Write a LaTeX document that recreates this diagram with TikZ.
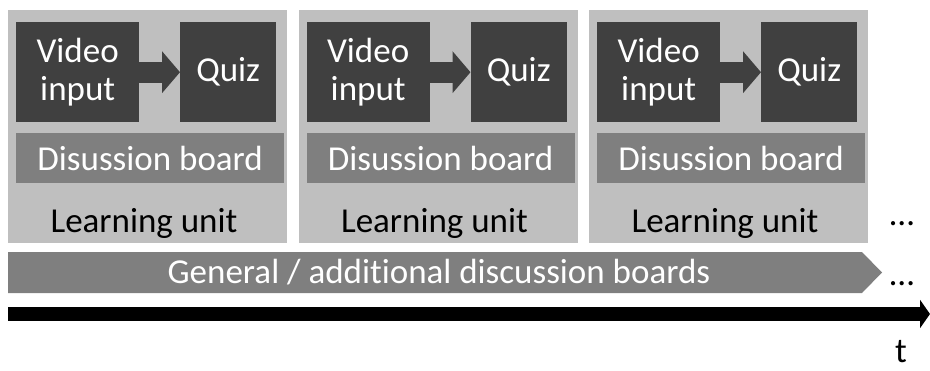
\documentclass[tikz,border=0pt]{standalone}
\usepackage{fontspec}
\setmainfont{Carlito}[Ligatures=NoCommon, RawFeature={-liga;-calt}]
\usetikzlibrary{arrows.meta}
\definecolor{unitgray}{HTML}{BFBFBF}
\definecolor{darkbox}{HTML}{404040}
\definecolor{midgray}{HTML}{7F7F7F}
\tikzset{
  unitbox/.style={fill=unitgray, draw=none, anchor=north west, inner sep=0pt,
    minimum width=279pt, minimum height=233pt},
  darkstep/.style={fill=darkbox, draw=none, anchor=north west, inner sep=0pt,
    minimum height=100pt, text=white, align=center,
    font=\fontsize{35}{38}\selectfont},
  boardbox/.style={fill=midgray, draw=none, anchor=north west, inner sep=0pt,
    minimum width=268pt, minimum height=50pt, text=white,
    font=\fontsize{35}{38}\selectfont},
  unitlabel/.style={font=\fontsize{35}{38}\selectfont, inner sep=0pt, anchor=base},
  flowarrow/.style={draw=darkbox, line width=21pt,
    -{Triangle[length=18pt,width=41pt]}},
  timearrow/.style={draw=black, line width=14pt,
    -{Triangle[length=10pt,width=28pt]}},
  plain/.style={font=\fontsize{35}{38}\selectfont, inner sep=0pt}
}
\begin{document}
\begin{tikzpicture}[x=1pt,y=-1pt]
\useasboundingbox (0,0) rectangle (930,370);

% three learning units
\foreach \ox/\i in {8/1,298.5/2,589/3}{
  \node[unitbox] (unit\i) at (\ox,10) {};
  \node[darkstep, minimum width=123pt] (video\i) at (\ox+8,22) {Video\\input};
  \node[darkstep, minimum width=96pt] (quiz\i) at (\ox+172,22) {Quiz};
  \draw[flowarrow] (video\i.east) -- (quiz\i.west);
  \node[boardbox] (board\i) at (\ox+8,133) {Disussion board};
  \node[unitlabel] (label\i) at (\ox+136,232) {Learning unit};
}

% general discussion bar
\fill[midgray] (8,252) -- (862,252) -- (882,272.5) -- (862,293) -- (8,293) -- cycle;
\node[plain, text=white] (general) at (439,272.5) {General / additional discussion boards};

% continuation marks
\node[plain, anchor=base] (more1) at (902,225) {…};
\node[plain, anchor=base] (more2) at (902,285) {…};

% time axis
\coordinate (tstart) at (8,314);
\coordinate (tend) at (930,314);
\draw[timearrow] (tstart) -- (tend);
\node[plain, anchor=base] (tlabel) at (901,362) {t};
\end{tikzpicture}
\end{document}
